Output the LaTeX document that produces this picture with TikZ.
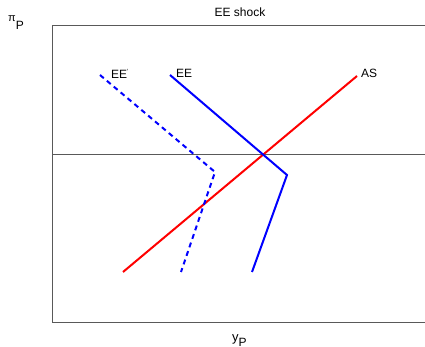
\documentclass[tikz,border=0pt]{standalone}
\usepackage{fontspec}
\setmainfont{Liberation Sans}
\begin{document}
\begin{tikzpicture}[x=1pt,y=-1pt,
  axis/.style={draw=gray!70!black,line width=0.8pt},
  eecurve/.style={draw=blue,line width=2pt},
  ascurve/.style={draw=red,line width=2pt},
  lbl/.style={font=\fontsize{12}{13}\selectfont,inner sep=0pt}]
\useasboundingbox (0,0) rectangle (425,347);
\coordinate (tl) at (52,25);
\coordinate (tr) at (425,25);
\coordinate (bl) at (52,322);
\coordinate (br) at (425,322);
\coordinate (ml) at (52,154);
\coordinate (mr) at (425,154);
\draw[axis] (tr) -- (tl) -- (bl) -- (br);
\draw[axis] (ml) -- (mr);
% AS
\coordinate (as1) at (123,272);
\coordinate (as2) at (357,76);
\draw[ascurve] (as1) -- (as2);
% EE
\coordinate (ee1) at (170,75);
\coordinate (ee2) at (287,175);
\coordinate (ee3) at (252,272);
\draw[eecurve] (ee1) -- (ee2) -- (ee3);
% EE'
\coordinate (ep1) at (100,75);
\coordinate (ep2) at (215,172);
\coordinate (ep3) at (181,272);
\draw[eecurve,dash pattern=on 5pt off 4pt] (ep1) -- (ep2) -- (ep3);
% labels
\node[lbl,anchor=base west] (lee) at (111,79) {EE\raisebox{5pt}{\fontsize{6}{6}\selectfont ′}};
\node[lbl,anchor=base west] (lee2) at (176,78) {EE};
\node[lbl,anchor=base west] (las) at (361,78) {AS};
\node[lbl,anchor=base] (title) at (240,17) {EE shock};
\node[inner sep=0pt,anchor=base west] (pi) at (8,22) {\fontsize{11}{12}\selectfont π\raisebox{-8pt}{\fontsize{12}{13}\selectfont P}};
\node[inner sep=0pt,anchor=base west] (yp) at (232,341) {\fontsize{13}{14}\selectfont y\raisebox{-5pt}{\fontsize{12}{13}\selectfont P}};
\end{tikzpicture}
\end{document}
